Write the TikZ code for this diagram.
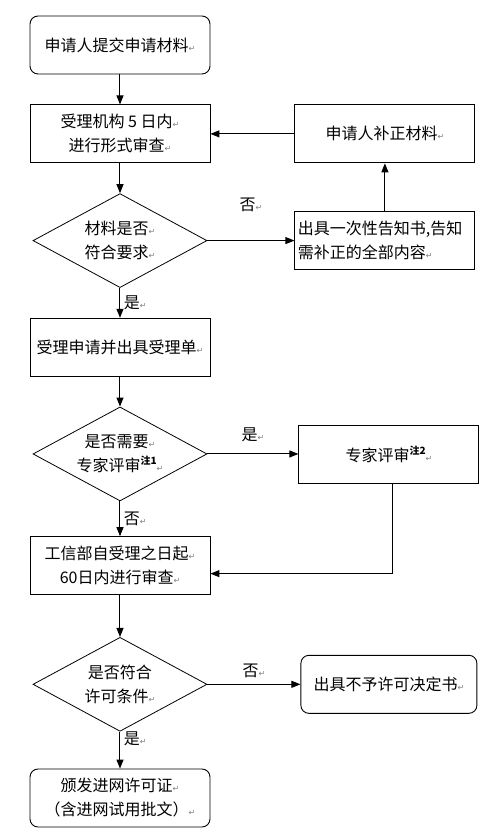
\documentclass[tikz,border=0pt]{standalone}
\usepackage{fontspec}
\setmainfont{Noto Sans CJK SC}
\newfontfamily\symfont{DejaVu Sans}
\usetikzlibrary{matrix,shapes.geometric,arrows.meta}

\newcommand{\retmark}{{\symfont\fontsize{8}{8}\selectfont\color{gray}↵}}
\newcommand{\notemark}[1]{\raisebox{7pt}{\fontsize{10}{10}\selectfont\bfseries 注#1}}

\tikzset{
  proc/.style={draw,line width=0.9pt,minimum width=180pt,minimum height=58pt,align=center,inner sep=2pt},
  term/.style={proc,rounded corners=8pt},
  test/.style={draw,diamond,aspect=1.85,line width=0.8pt,minimum width=174pt,minimum height=94pt,inner sep=0pt,align=center},
  lbl/.style={font=\fontsize{16}{16}\selectfont}
}

\begin{document}
\begin{tikzpicture}[font=\fontsize{16}{24}\selectfont,>={Triangle[length=9pt,width=7pt]}]
  \matrix (m) [row sep=30pt,column sep=84pt]
  {
     \node[term] (submit) {申请人提交申请材料\retmark}; \\
     \node[proc] (form) {受理机构 5 日内\retmark\\进行形式审查\retmark}; &
     \node[proc] (amend) {申请人补正材料\retmark}; \\
     \node[test] (valid) {材料是否\retmark\\符合要求\retmark}; &
     \node[proc,align=left,text width=174pt] (notice) {出具一次性告知书,告知\\需补正的全部内容\retmark}; \\
     \node[proc] (accept) {受理申请并出具受理单\retmark}; \\
     \node[test] (need) {是否需要\retmark\\专家评审\notemark{1}\retmark}; &
     \node[proc,xshift=4pt] (expert) {专家评审\notemark{2}\retmark}; \\[5pt]
     \node[proc] (review) {工信部自受理之日起\retmark\\60日内进行审查\retmark}; \\[12pt]
     \node[test] (meet) {是否符合\\许可条件\retmark}; &
     \node[term,xshift=4pt,minimum width=176pt] (refuse) {出具不予许可决定书\retmark}; \\[7pt]
     \node[term] (issue) {颁发进网许可证\retmark\\（含进网试用批文）\retmark}; \\
  };
  \path[->,line width=1pt]
    (submit) edge (form)
    (form) edge (valid)
    (valid) edge node [right,lbl] {是\retmark} (accept)
    (valid) edge node [above=25pt,lbl] {否\retmark} (notice)
    (notice) edge (amend)
    (amend) edge (form)
    (accept) edge (need)
    (need) edge node [above=8pt,lbl] {是\retmark} (expert)
    (need) edge node [right,lbl] {否\retmark} (review)
    (review) edge (meet)
    (meet) edge node [above=3pt,lbl] {否\retmark} (refuse)
    (meet) edge node [right,lbl,pos=0.2] {是\retmark} (issue);
  \draw[->,line width=1pt] ([xshift=4pt]expert.south) |- ([yshift=-8pt]review.east);
  % page frame
  \pgfresetboundingbox
  \path (submit.center) ++(-120pt,45pt) coordinate (tl);
  \useasboundingbox (tl) rectangle ++(498pt,-834pt);
\end{tikzpicture}
\end{document}
